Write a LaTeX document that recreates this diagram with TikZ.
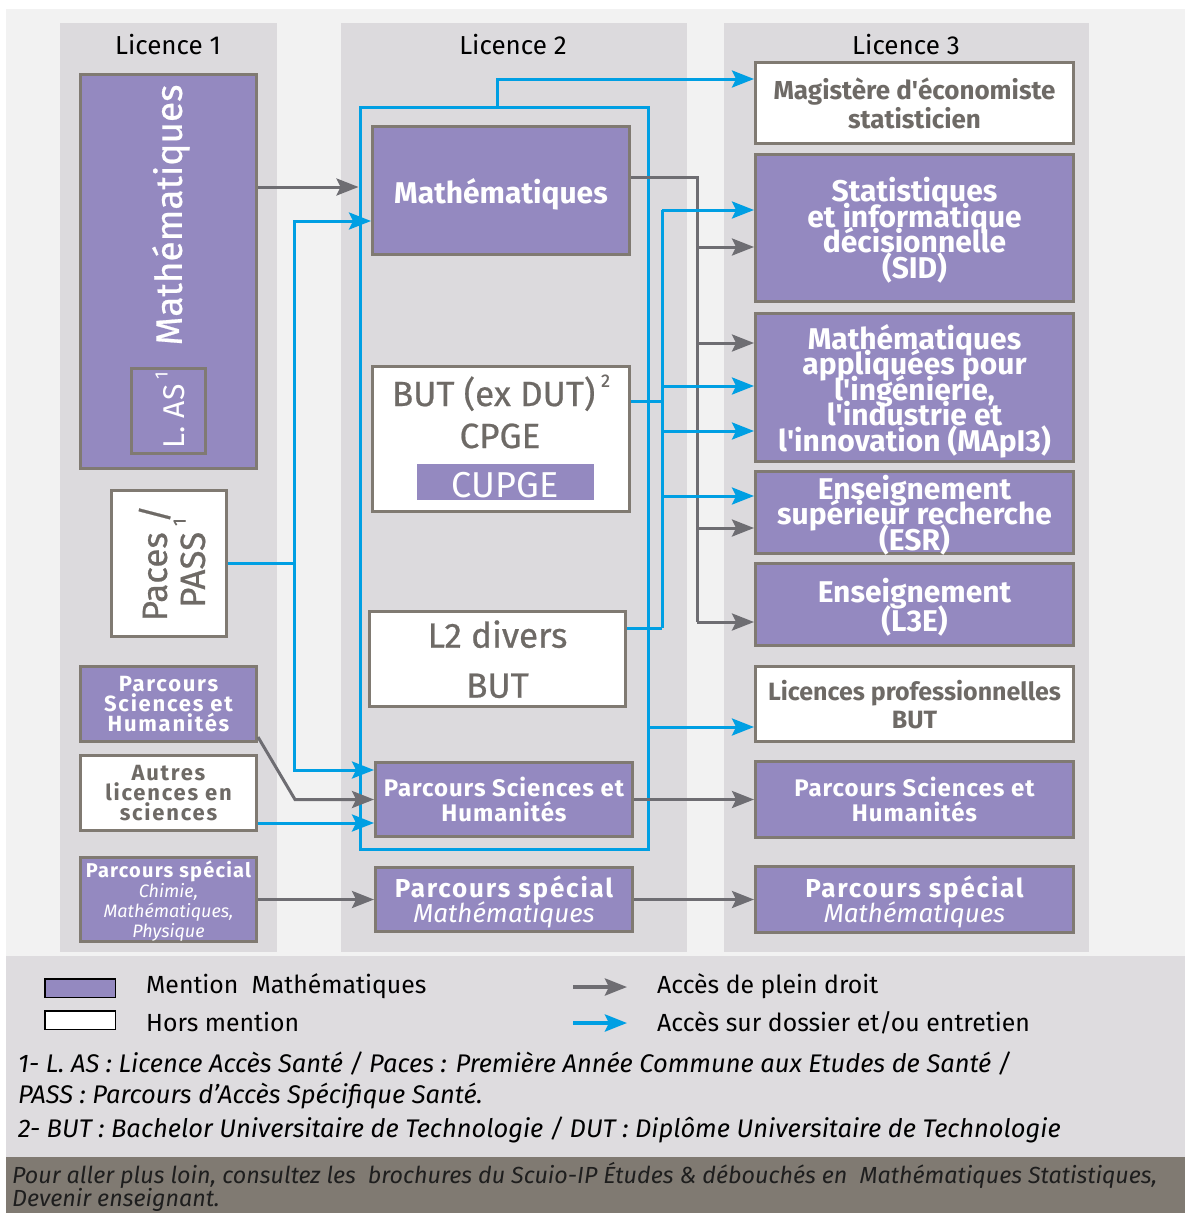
\documentclass[tikz,border=0pt]{standalone}
\usepackage{fontspec}
\setmainfont{Fira Sans}
\newfontfamily\semib{Fira Sans}[FakeBold=0.6]
\usetikzlibrary{arrows.meta}
\definecolor{purp}{HTML}{9489C0}
\definecolor{bord}{HTML}{807A72}
\definecolor{arrg}{HTML}{6E6D72}
\definecolor{blu}{HTML}{009FE3}
\definecolor{colbg}{HTML}{DCDADD}
\definecolor{outbg}{HTML}{F2F2F2}
\definecolor{txtg}{HTML}{6E6A66}
\definecolor{legbg}{HTML}{DEDCDF}
\definecolor{footbg}{HTML}{807A72}
\definecolor{foottx}{HTML}{1E1E1E}
\newcommand\fsz[2]{\fontsize{#1}{#2}\selectfont\lineskiplimit=-100pt\relax}
\newcommand\spc[1]{\addfontfeature{LetterSpace=#1}}
\newcommand\supr[1]{\raisebox{0.55em}{\fsz{18}{18}#1}}
\tikzset{
  boxbase/.style={draw=bord, line width=3pt, inner sep=0pt, align=center, text depth=0pt},
  mbox/.style={boxbase, fill=purp, text=white},
  wbox/.style={boxbase, fill=white, text=txtg},
  arrowtip/.style={-{Stealth[length=22pt,width=17pt,inset=4pt]}},
  gline/.style={draw=arrg, line width=3pt},
  bline/.style={draw=blu, line width=3pt},
  garr/.style={gline, arrowtip},
  barr/.style={bline, arrowtip},
  colhead/.style={anchor=base, font=\fsz{26}{26}, text=black},
  col3txt/.style={font=\bfseries\fsz{30}{25.5}},
  legtxt/.style={anchor=base west, font=\fsz{24.8}{26}, inner sep=0pt, text=black},
  fntxt/.style={anchor=base west, font=\itshape\fsz{25.5}{26}, inner sep=0pt, text=black},
  foottxt/.style={anchor=base west, font=\itshape\fsz{23.3}{26}, inner sep=0pt, text=foottx},
  legbox/.style={draw=black, line width=1.5pt, minimum width=70.5pt, minimum height=18.5pt, inner sep=0pt},
}
\begin{document}
\begin{tikzpicture}[x=1pt,y=-1pt]
\useasboundingbox (0,0) rectangle (1185,1213);
\fill[white] (0,0) rectangle (1185,1213);
\fill[outbg] (6,9) rectangle (1185,956);
\fill[colbg] (60,23) rectangle (277,952);
\fill[colbg] (341,23) rectangle (687,952);
\fill[colbg] (724,23) rectangle (1089,952);
\fill[legbg] (6,956) rectangle (1185,1157);
\fill[footbg] (6,1157) rectangle (1185,1213);

\node[colhead] (h1) at (168,54) {Licence 1};
\node[colhead] (h2) at (513,54) {Licence 2};
\node[colhead] (h3) at (906,54) {Licence 3};

% ---------- column 1
\node[mbox, minimum width=176pt, minimum height=394pt] (m1) at (168.5,271.5) {};
\node[rotate=90, text=white, font=\semib\fsz{37}{37}] (m1t) at (171,215) {Mathématiques};
\node[mbox, minimum width=74pt, minimum height=85pt] (las) at (168.5,411) {};
\node[rotate=90, text=white, font=\fsz{30}{30}] (last) at (170,410) {L. AS\,\supr{1}};
\node[wbox, minimum width=115pt, minimum height=146pt] (paces) at (169,563.5) {};
\node[rotate=90, text=txtg, align=center, font=\semib\fsz{35}{38}] (pacest) at (172,563) {Paces /\\PASS\,\supr{1}};
\node[mbox, minimum width=176pt, minimum height=75pt, font=\bfseries\spc{8}\fsz{22}{20}] (psh1) at (168.5,704) {Parcours\\Sciences et\\Humanités};
\node[wbox, minimum width=176pt, minimum height=75pt, font=\bfseries\spc{8}\fsz{22}{20}] (autres) at (168.5,793) {Autres\\licences en\\sciences};
\node[mbox, minimum width=176pt, minimum height=84pt, font=\fsz{18}{20}] (ps1) at (168.5,899.5) {{\bfseries\spc{6}\fsz{20}{20}Parcours spécial}\\{\itshape Chimie,}\\{\itshape Mathématiques,}\\{\itshape Physique}};

% ---------- column 2
\node[draw=blu, line width=3pt, minimum width=288pt, minimum height=742pt, inner sep=0pt] (frame) at (504,478) {};
\node[mbox, minimum width=257pt, minimum height=128pt, font=\bfseries\fsz{30}{30}] (m2) at (501,190.5) {Mathématiques};
\node[wbox, minimum width=257pt, minimum height=145pt] (but) at (501,439) {};
\node[text=txtg, font=\semib\fsz{35}{36}, anchor=base] (butt) at (501,406) {BUT (ex DUT)\,\supr{2}};
\node[text=txtg, font=\semib\fsz{35}{36}, anchor=base] (cpge) at (500,448) {CPGE};
\node[fill=purp, minimum width=177pt, minimum height=36pt, inner sep=0pt] (cupge) at (505.5,482) {};
\node[text=white, font=\fsz{36}{36}, anchor=base] (cupget) at (505,497) {CUPGE};
\node[wbox, minimum width=256pt, minimum height=95pt, font=\semib\fsz{35}{50}] (l2) at (497.5,659) {L2 divers\\BUT};
\node[mbox, minimum width=257pt, minimum height=74pt, font=\bfseries\spc{4}\fsz{24}{25}] (psh2) at (504,799.5) {Parcours Sciences et\\Humanités};
\node[mbox, minimum width=257pt, minimum height=64pt, font=\fsz{26}{25}] (ps2) at (504,899.5) {{\bfseries\spc{7}Parcours spécial}\\{\itshape Mathématiques}};

% ---------- column 3
\node[wbox, minimum width=318pt, minimum height=81pt, font=\bfseries\fsz{26}{29}] (mag) at (914.5,103) {Magistère d\textquotesingle économiste\\statisticien};
\node[mbox, minimum width=318pt, minimum height=147pt, col3txt] (sid) at (914.5,228) {Statistiques\\et informatique\\décisionnelle\\(SID)};
\node[mbox, minimum width=318pt, minimum height=148pt, col3txt] (mapi) at (914.5,387.5) {Mathématiques\\appliquées pour\\l\textquotesingle ingénierie,\\l\textquotesingle industrie et\\l\textquotesingle innovation (MApI3)};
\node[mbox, minimum width=318pt, minimum height=82pt, col3txt] (esr) at (914.5,512.5) {Enseignement\\supérieur recherche\\(ESR)};
\node[mbox, minimum width=318pt, minimum height=82pt, font=\bfseries\fsz{30}{29}] (l3e) at (914.5,604.5) {Enseignement\\(L3E)};
\node[wbox, minimum width=318pt, minimum height=75pt, font=\bfseries\fsz{25}{28}] (lpro) at (914.5,704) {Licences professionnelles\\BUT};
\node[mbox, minimum width=318pt, minimum height=76pt, font=\bfseries\spc{4}\fsz{24}{25}] (psh3) at (914.5,799.5) {Parcours Sciences et\\Humanités};
\node[mbox, minimum width=318pt, minimum height=66pt, font=\fsz{26}{25}] (ps3) at (914.5,899.5) {{\bfseries\spc{7}Parcours spécial}\\{\itshape Mathématiques}};

% ---------- grey connectors
\draw[garr] (m1.east |- 0,187) -- (frame.west |- 0,187);
\coordinate (gtop) at (697,177);
\coordinate (gbot) at (697,622);
\draw[gline] (m2.east |- gtop) -- (gtop) -- (gbot);
\draw[garr] (gbot) -- (l3e.west |- gbot);
\draw[garr] (gtop |- 0,247) -- (sid.west |- 0,247);
\draw[garr] (gtop |- 0,343) -- (mapi.west |- 0,343);
\draw[garr] (gtop |- 0,528) -- (esr.west |- 0,528);
\coordinate (gk) at (295,799.5);
\draw[garr] (psh1.east |- 0,737) -- (gk) -- (psh2.west |- gk);
\draw[garr] (ps1.east) -- (ps2.west);
\draw[garr] (psh2.east) -- (psh3.west);
\draw[garr] (ps2.east) -- (ps3.west);

% ---------- blue connectors
\coordinate (pj) at (294,563.5);
\draw[bline] (paces.east) -- (pj);
\draw[barr] (pj) |- (m2.west |- 0,221);
\draw[barr] (pj) |- (psh2.west |- 0,770);
\draw[barr] (autres.east |- 0,823) -- (psh2.west |- 0,823);
\draw[barr] (frame.north -| 497,0) -- (497,79) -- (mag.west |- 0,79);
\draw[barr] (frame.east |- 0,727) -- (lpro.west |- 0,727);
\coordinate (btop) at (662,210);
\coordinate (bbot) at (662,628);
\draw[bline] (btop) -- (bbot);
\draw[bline] (but.east |- 0,401) -- (btop |- 0,401);
\draw[bline] (l2.east |- bbot) -- (bbot);
\draw[barr] (btop) -- (sid.west |- btop);
\draw[barr] (btop |- 0,386) -- (mapi.west |- 0,386);
\draw[barr] (btop |- 0,431) -- (mapi.west |- 0,431);
\draw[barr] (btop |- 0,496) -- (esr.west |- 0,496);

% ---------- legend
\node[legbox, fill=purp] (legm) at (80,988) {};
\node[legbox, fill=white] (legh) at (80,1020) {};
\node[legtxt] (legmt) at (146,993) {Mention\ \ Mathématiques};
\node[legtxt] (leght) at (146,1031) {Hors mention};
\coordinate (lg1) at (573,987);
\coordinate (lg2) at (627,987);
\draw[garr, line width=4pt] (lg1) -- (lg2);
\coordinate (lb1) at (573,1023);
\coordinate (lb2) at (627,1023);
\draw[barr, line width=4pt] (lb1) -- (lb2);
\node[legtxt] (legg) at (657,993) {Accès de plein droit};
\node[legtxt] (legb) at (657,1031) {Accès sur dossier et/ou entretien};
\node[fntxt] (fn1) at (18,1072) {1- L. AS : Licence Accès Santé / Paces : Première Année Commune aux Etudes de Santé /};
\node[fntxt] (fn2) at (18,1103) {PASS : Parcours d’Accès Spécifique Santé.};
\node[fntxt] (fn3) at (18,1137) {2- BUT : Bachelor Universitaire de Technologie / DUT : Diplôme Universitaire de Technologie};
\node[foottxt] (ft1) at (12,1183) {Pour aller plus loin, consultez les\ \ brochures du Scuio-IP Études \& débouchés en\ \ Mathématiques Statistiques,};
\node[foottxt] (ft2) at (12,1206) {Devenir enseignant.};
\end{tikzpicture}
\end{document}
